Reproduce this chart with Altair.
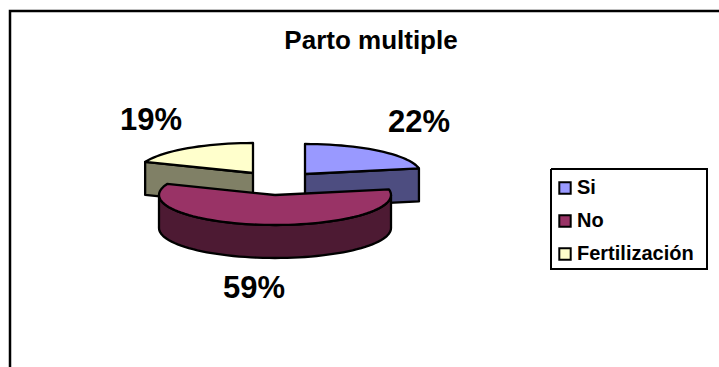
import math
import altair as alt
import pandas as pd

# Slice shares and labels
categories = ["Si", "No", "Fertilización"]
shares = [22, 59, 19]
top_colors = ["#9999FF", "#993366", "#FFFFCC"]
side_colors = ["#4D4D80", "#4D1A33", "#808066"]

# Tilted-disc geometry, in the chart's 719x367 coordinate frame
apex_x = [305, 275, 253]
apex_y = [174, 195, 173]
label_x = [419, 254, 151]
label_y = [123, 289, 121]
RX, RY, DEPTH = 116, 30, 33
W, H = 719, 367


def rim(cx, cy, deg):
    a = math.radians(deg)
    return cx + RX * math.sin(a), cy - RY * math.cos(a)


def arc_points(cx, cy, start, end):
    n = max(2, int(abs(end - start) / 3) + 1)
    return [rim(cx, cy, start + (end - start) * i / (n - 1)) for i in range(n)]


# Cumulative slice angles, clockwise from twelve o'clock
bounds = [0.0]
for s in shares:
    bounds.append(bounds[-1] + s * 3.6)

faces = []


def add_face(name, pts, fill):
    closed = pts + [pts[0]]
    for i, (x, y) in enumerate(closed):
        faces.append({"face": name, "i": i, "x": x, "y": y, "fill": fill})


for k, cat in enumerate(categories):
    cx, cy = apex_x[k], apex_y[k]
    start, end = bounds[k], bounds[k + 1]
    if k == 0:
        edge = rim(cx, cy, end)
        side = [(cx, cy), edge, (edge[0], edge[1] + DEPTH), (cx, cy + DEPTH)]
    elif k == 2:
        edge = rim(cx, cy, start)
        side = [(cx, cy), edge, (edge[0], edge[1] + DEPTH), (cx, cy + DEPTH)]
    else:
        front = arc_points(cx, cy, max(start, 90), min(end, 270))
        side = front + [(x, y + DEPTH) for x, y in reversed(front)]
    add_face(f"{k}-side", side, side_colors[k])
    add_face(f"{k}-top", [(cx, cy)] + arc_points(cx, cy, start, end), top_colors[k])

faces = pd.DataFrame(faces)
x_scale = alt.Scale(domain=[0, W], range=[0, W], nice=False, zero=False)
y_scale = alt.Scale(domain=[0, H], range=[0, H], nice=False, zero=False)
px = alt.X("x:Q", scale=x_scale, axis=None)
py = alt.Y("y:Q", scale=y_scale, axis=None)

# Outer frame runs off the bottom and right of the page
frame = pd.DataFrame({"x": [10, 10, 730], "y": [375, 11, 11], "i": range(3)})
frame_layer = alt.Chart(frame).mark_line(color="black", strokeWidth=2.5, clip=False).encode(
    x=px, y=py, order="i:Q"
)

# Box around the legend entries
box = pd.DataFrame({"x": [551, 707, 707, 551, 551], "y": [169, 169, 269, 269, 169], "i": range(5)})
box_layer = alt.Chart(box).mark_line(color="black", strokeWidth=2, fill="white", clip=False).encode(
    x=px, y=py, order="i:Q"
)

# Faces are painted back to front: Si, Fertilización, then No
layers = [frame_layer, box_layer]
for k in [0, 2, 1]:
    for part in ["side", "top"]:
        name = f"{k}-{part}"
        d = faces[faces.face == name]
        layers.append(
            alt.Chart(d).mark_line(
                fill=d.fill.iloc[0], stroke="black", strokeWidth=2.3, strokeJoin="round", clip=False
            ).encode(x=px, y=py, order="i:Q")
        )

labels = pd.DataFrame({
    "x": label_x,
    "y": label_y,
    "t": [f"{s}%" for s in shares],
})
label_layer = alt.Chart(labels).mark_text(
    font="Liberation Sans", fontWeight="bold", fontSize=31, color="black", baseline="middle"
).encode(x=px, y=py, text="t:N")

title_layer = alt.Chart(pd.DataFrame({"x": [371], "y": [41], "t": ["Parto multiple"]})).mark_text(
    font="Liberation Sans", fontWeight="bold", fontSize=26, color="black", baseline="middle"
).encode(x=px, y=py, text="t:N")

# Zero-size squares at the apexes carry the legend
keys = pd.DataFrame({"x": apex_x, "y": apex_y, "cat": categories})
legend_layer = alt.Chart(keys).mark_square(size=0, opacity=1).encode(
    x=px,
    y=py,
    fill=alt.Fill(
        "cat:N",
        scale=alt.Scale(domain=categories, range=top_colors),
        legend=alt.Legend(
            title=None,
            orient="none",
            legendX=555,
            legendY=178,
            padding=0,
            symbolType="square",
            symbolSize=130,
            symbolStrokeColor="black",
            symbolStrokeWidth=2,
            labelFont="Liberation Sans",
            labelFontWeight="bold",
            labelFontSize=20,
            labelColor="black",
            rowPadding=13,
            labelOffset=2,
        ),
    ),
)

chart = (
    alt.layer(*layers, label_layer, title_layer, legend_layer)
    .properties(width=W, height=H, padding=0, autosize=alt.AutoSizeParams(type="none"), background="white")
    .configure_view(stroke=None)
)

chart.save("out.html", embed_options={"renderer": "svg", "actions": False})
